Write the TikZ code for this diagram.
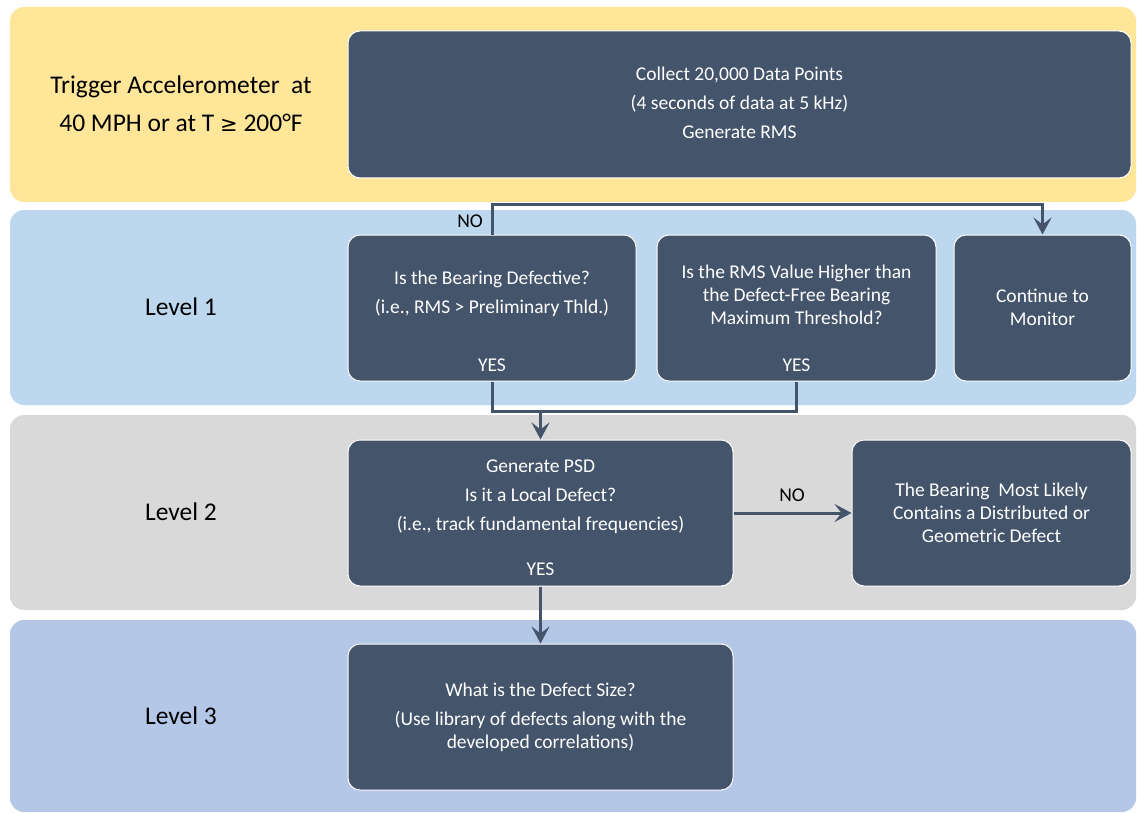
\documentclass[tikz,border=0pt]{standalone}
\usepackage{fontspec}
\setmainfont{Carlito}
\usetikzlibrary{arrows.meta}
\definecolor{slate}{HTML}{44546A}
\definecolor{bandyellow}{HTML}{FFE699}
\definecolor{bandblue}{HTML}{BDD7EE}
\definecolor{bandgray}{HTML}{D9D9D9}
\definecolor{bandsteel}{HTML}{B4C7E7}

\tikzset{
  band/.style={rounded corners=14pt},
  box/.style={draw=white, fill=slate, rounded corners=12pt, line width=1pt, inner sep=0pt},
  boxtext/.style={text=white, font=\fontsize{19.5}{23}\selectfont, align=center},
  lvl/.style={font=\fontsize{25.5}{38}\selectfont, align=center},
  tag/.style={font=\fontsize{19.5}{23}\selectfont},
  link/.style={draw=slate, line width=3pt},
  flow/.style={link, -{Stealth[length=17pt,width=18pt,inset=7pt]}},
}

\begin{document}
\begin{tikzpicture}[x=1pt, y=-1pt]
\useasboundingbox (0,0) rectangle (1137,813);

% level bands
\fill[bandyellow, band] (10,7) rectangle (1136,202);
\fill[bandblue, band] (10,210) rectangle (1136,405);
\fill[bandgray, band] (10,415) rectangle (1136,610);
\fill[bandsteel, band] (10,620) rectangle (1136,812);

\node[lvl] (trigger) at (181,104) {Trigger Accelerometer\ \ at\\40 MPH or at T {\fontspec{DejaVu Sans}\fontsize{21}{38}\selectfont ≥} 200°F};
\node[lvl] (lvlone) at (181,307) {Level 1};
\node[lvl] (lvltwo) at (181,512) {Level 2};
\node[lvl] (lvlthree) at (181,716) {Level 3};

% boxes
\node[box, minimum width=783pt, minimum height=147pt] (collect) at (739.5,104.5) {};
\node[box, minimum width=288pt, minimum height=146pt] (defective) at (492,308) {};
\node[box, minimum width=279pt, minimum height=146pt] (rmshigh) at (796.5,308) {};
\node[box, minimum width=177pt, minimum height=146pt] (monitor) at (1042.5,308) {};
\node[box, minimum width=385pt, minimum height=146pt] (psd) at (540.5,513) {};
\node[box, minimum width=279pt, minimum height=146pt] (distributed) at (991.5,513) {};
\node[box, minimum width=385pt, minimum height=146pt] (defsize) at (540.5,717) {};

\node[boxtext] (collecttext) at (739.5,103) {Collect 20,000 Data Points\\[6pt](4 seconds of data at 5 kHz)\\[6pt]Generate RMS};
\node[boxtext] (defectivetext) at (492,294) {Is the Bearing Defective?\\[6pt](i.e., RMS > Preliminary Thld.)};
\node[boxtext] (rmshightext) at (796.5,295) {Is the RMS Value Higher than\\the Defect-Free Bearing\\Maximum Threshold?};
\node[boxtext] (monitortext) at (1042.5,307) {Continue to\\Monitor};
\node[boxtext] (psdtext) at (540.5,497) {Generate PSD\\[6pt]Is it a Local Defect?\\[6pt](i.e., track fundamental frequencies)};
\node[boxtext] (distributedtext) at (991.5,513) {The Bearing\ \ Most Likely\\Contains a Distributed or\\Geometric Defect};
\node[boxtext] (defsizetext) at (540.5,717) {What is the Defect Size?\\[6pt](Use library of defects along with the\\developed correlations)};

\node[boxtext] (yesone) at (492,365) {YES};
\node[boxtext] (yestwo) at (796.5,365) {YES};
\node[boxtext] (yesthree) at (540.5,569) {YES};

% connectors
\draw[flow] (defective.north) -- ++(0,-30) -| (monitor.north);
\node[tag] (noone) at (470,221) {NO};
\draw[link] (defective.south) -- ++(0,30) coordinate (merge) -| (rmshigh.south);
\draw[flow] (merge -| psd.north) -- (psd.north);
\draw[flow] (psd.east) -- (distributed.west);
\node[tag] (notwo) at (792,495) {NO};
\draw[flow] (psd.south) -- (defsize.north);

\end{tikzpicture}
\end{document}
